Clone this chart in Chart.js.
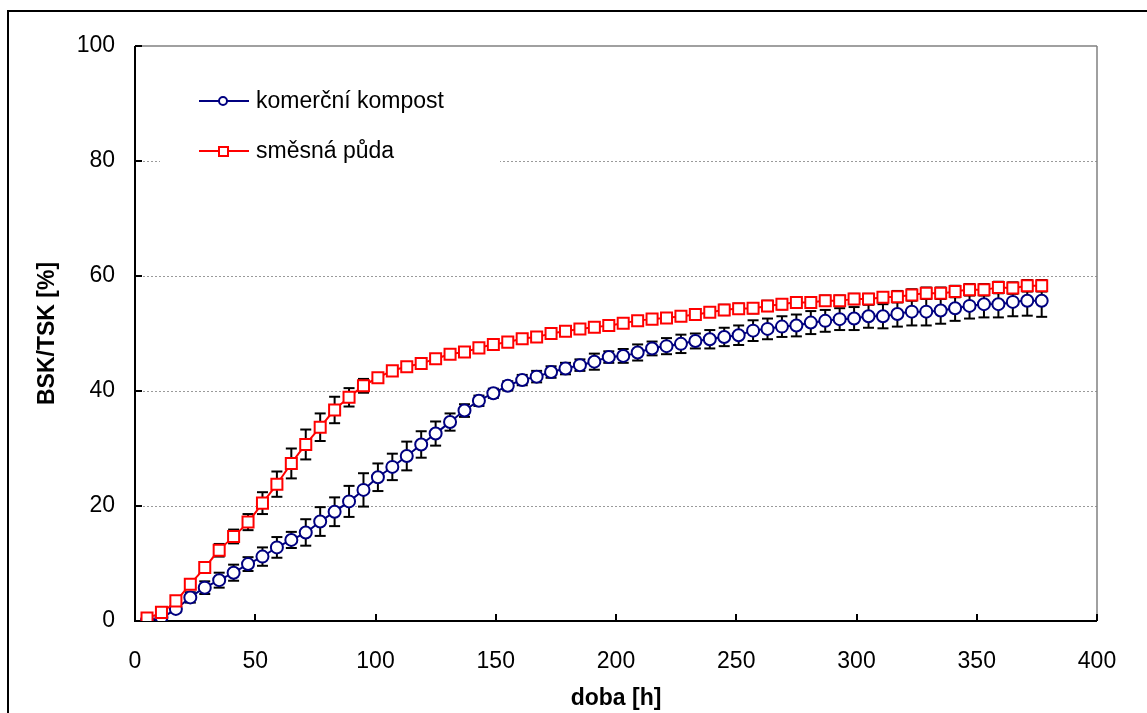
<!DOCTYPE html>
<html>
<head>
<meta charset="utf-8">
<script src="https://cdn.jsdelivr.net/npm/chart.js@4.4.1/dist/chart.umd.min.js"></script>
<style>
    html, body { margin: 0; padding: 0; background: #fff; }
    canvas { display: block; }
</style>
</head>
<body>
<canvas id="bskChart" width="1147" height="713"></canvas>
<script>
// doba [h]
const hours = [
    5, 11, 17, 23, 29, 35, 41, 47, 53, 59,
    65, 71, 77, 83, 89, 95, 101, 107, 113, 119,
    125, 131, 137, 143, 149, 155, 161, 167, 173, 179,
    185, 191, 197, 203, 209, 215, 221, 227, 233, 239,
    245, 251, 257, 263, 269, 275, 281, 287, 293, 299,
    305, 311, 317, 323, 329, 335, 341, 347, 353, 359,
    365, 371, 377
];

// komerční kompost - BSK/TSK [%]
const kompost = [
    0.1, 0.6, 2.1, 4.1, 5.8, 7.1, 8.4, 9.9, 11.2, 12.8,
    14.1, 15.4, 17.3, 19.0, 20.8, 22.8, 25.0, 26.8, 28.7, 30.7,
    32.6, 34.6, 36.6, 38.3, 39.6, 40.9, 41.9, 42.5, 43.3, 43.9,
    44.5, 45.1, 45.9, 46.1, 46.7, 47.4, 47.8, 48.2, 48.7, 49.0,
    49.4, 49.7, 50.5, 50.8, 51.2, 51.4, 51.9, 52.2, 52.5, 52.6,
    53.0, 53.0, 53.4, 53.8, 53.8, 54.0, 54.4, 54.8, 55.1, 55.1,
    55.5, 55.7, 55.7
];
const kompostErr = [
    0.3, 0.4, 0.6, 0.9, 1.1, 1.3, 1.4, 1.2, 1.6, 1.8,
    1.4, 2.3, 2.5, 2.5, 2.7, 2.9, 2.4, 2.3, 2.5, 2.3,
    2.1, 1.5, 1.1, 0.9, 0.8, 0.8, 0.9, 1.0, 1.0, 1.0,
    1.0, 1.4, 1.0, 1.2, 1.4, 1.2, 1.4, 1.6, 1.3, 1.6,
    1.6, 1.7, 1.8, 1.8, 1.8, 1.9, 2.0, 1.9, 1.9, 2.0,
    2.0, 2.1, 2.2, 2.4, 2.4, 2.3, 2.2, 2.2, 2.3, 2.3,
    2.5, 2.6, 2.8
];

// směsná půda - BSK/TSK [%]
const puda = [
    0.5, 1.5, 3.5, 6.4, 9.3, 12.3, 14.7, 17.2, 20.5, 23.8,
    27.4, 30.7, 33.7, 36.7, 38.9, 40.9, 42.3, 43.5, 44.2, 44.8,
    45.6, 46.4, 46.8, 47.5, 48.1, 48.5, 49.1, 49.4, 50.0, 50.4,
    50.8, 51.1, 51.4, 51.8, 52.2, 52.5, 52.7, 53.0, 53.3, 53.7,
    54.1, 54.3, 54.4, 54.8, 55.1, 55.4, 55.4, 55.7, 55.7, 56.0,
    56.0, 56.3, 56.4, 56.7, 57.0, 57.0, 57.3, 57.6, 57.6, 58.0,
    57.9, 58.3, 58.3
];
const pudaErr = [
    0.3, 0.4, 0.5, 0.7, 0.8, 1.1, 1.2, 1.4, 1.9, 2.2,
    2.6, 2.6, 2.4, 2.3, 1.6, 1.2, 0.8, 0.7, 0.7, 0.7,
    0.7, 0.7, 0.7, 0.7, 0.7, 0.8, 0.8, 0.8, 0.8, 0.8,
    0.8, 0.8, 0.8, 0.8, 0.8, 0.8, 0.8, 0.8, 0.8, 0.8,
    0.9, 0.9, 0.9, 0.9, 0.9, 0.9, 0.9, 0.9, 0.9, 0.9,
    0.9, 0.9, 1.0, 1.0, 1.0, 1.0, 1.0, 1.0, 1.0, 1.0,
    1.0, 1.0, 1.0
];

const seriesNames = ["komerční kompost", "směsná půda"];
const yGridValues = [20, 40, 60, 80];

const FONT = "'Liberation Sans', Arial, sans-serif";
const NAVY = "#000080";
const RED = "#ff0000";

function toPoints(xs, ys) {
    return xs.map((h, i) => ({ x: h, y: ys[i] }));
}

function strokeLine(ctx, x1, y1, x2, y2) {
    ctx.beginPath();
    ctx.moveTo(x1, y1);
    ctx.lineTo(x2, y2);
    ctx.stroke();
}

// gridlines, axes, inside tick marks, error bars, legend, outer frame
const chartDecor = {
    id: "chartDecor",
    beforeDatasetsDraw(chart) {
        const { ctx, chartArea: a, scales: { x, y } } = chart;
        ctx.save();

        // outer frame
        ctx.strokeStyle = "#000";
        ctx.lineWidth = 2;
        ctx.strokeRect(8, 11, 1300, 900);

        // dotted gridlines
        ctx.strokeStyle = "#9a9a9a";
        ctx.lineWidth = 1;
        ctx.setLineDash([2, 2]);
        yGridValues.forEach(v => {
            const py = Math.round(y.getPixelForValue(v)) + 0.5;
            strokeLine(ctx, a.left, py, a.right, py);
        });
        ctx.setLineDash([]);

        // top and right border of plot
        ctx.strokeStyle = "#808080";
        ctx.lineWidth = 1.5;
        strokeLine(ctx, a.left, a.top, a.right, a.top);
        strokeLine(ctx, a.right, a.top, a.right, a.bottom);

        // legend background
        ctx.fillStyle = "#fff";
        ctx.fillRect(160, 66, 340, 118);

        // axes
        ctx.strokeStyle = "#000";
        ctx.lineWidth = 2;
        strokeLine(ctx, a.left, a.top, a.left, a.bottom + 1);
        strokeLine(ctx, a.left - 1, a.bottom, a.right, a.bottom);

        // tick marks pointing inside
        x.ticks.forEach(t => {
            const px = Math.round(x.getPixelForValue(t.value));
            strokeLine(ctx, px, a.bottom, px, a.bottom - 7);
        });
        y.ticks.forEach(t => {
            const py = Math.round(y.getPixelForValue(t.value));
            strokeLine(ctx, a.left, py, a.left + 7, py);
        });

        // error bars
        const drawErr = (vals, errs) => {
            hours.forEach((h, i) => {
                const px = x.getPixelForValue(h);
                const top = y.getPixelForValue(vals[i] + errs[i]);
                const bot = y.getPixelForValue(Math.max(0, vals[i] - errs[i]));
                strokeLine(ctx, px, top, px, bot);
                strokeLine(ctx, px - 5.5, top, px + 5.5, top);
                strokeLine(ctx, px - 5.5, bot, px + 5.5, bot);
            });
        };
        ctx.lineWidth = 2;
        drawErr(kompost, kompostErr);
        drawErr(puda, pudaErr);

        ctx.restore();
    },
    afterDatasetsDraw(chart) {
        const { ctx } = chart;
        ctx.save();
        ctx.font = "23px " + FONT;
        ctx.textBaseline = "middle";
        ctx.fillStyle = "#000";

        // komerční kompost
        ctx.strokeStyle = NAVY;
        ctx.lineWidth = 2;
        strokeLine(ctx, 199, 101, 249, 101);
        ctx.beginPath();
        ctx.arc(223, 101, 4, 0, Math.PI * 2);
        ctx.fillStyle = "#fff";
        ctx.fill();
        ctx.stroke();
        ctx.fillStyle = "#000";
        ctx.fillText(seriesNames[0], 256, 102);

        // směsná půda
        ctx.strokeStyle = RED;
        strokeLine(ctx, 199, 151, 249, 151);
        ctx.fillStyle = "#fff";
        ctx.fillRect(219, 147, 9, 9);
        ctx.strokeRect(219, 147, 9, 9);
        ctx.fillStyle = "#000";
        ctx.fillText(seriesNames[1], 256, 152);

        ctx.restore();
    }
};

new Chart(document.getElementById("bskChart"), {
    type: "line",
    data: {
        datasets: [
            {
                label: seriesNames[1],
                data: toPoints(hours, puda),
                borderColor: RED,
                borderWidth: 2,
                pointStyle: "rect",
                pointRadius: 7.8,
                pointBorderWidth: 2,
                pointBackgroundColor: "#fff",
                pointBorderColor: RED,
                cubicInterpolationMode: "monotone"
            },
            {
                label: seriesNames[0],
                data: toPoints(hours, kompost),
                borderColor: NAVY,
                borderWidth: 2,
                pointStyle: "circle",
                pointRadius: 6,
                pointBorderWidth: 2,
                pointBackgroundColor: "#fff",
                pointBorderColor: NAVY,
                cubicInterpolationMode: "monotone"
            }
        ]
    },
    options: {
        responsive: false,
        animation: false,
        devicePixelRatio: 1,
        layout: { padding: { left: 0, top: 46, right: 50, bottom: 0 } },
        plugins: {
            legend: { display: false },
            tooltip: { enabled: false }
        },
        scales: {
            x: {
                type: "linear",
                min: 0,
                max: 400,
                grid: { display: false, drawTicks: false },
                border: { display: false },
                ticks: {
                    stepSize: 50,
                    padding: 27,
                    color: "#000",
                    font: { family: FONT, size: 23 }
                },
                title: {
                    display: true,
                    text: "doba [h]",
                    color: "#000",
                    padding: { top: 0, bottom: 1 },
                    font: { family: FONT, size: 23, weight: "bold" }
                },
                afterFit(scale) { scale.height = 92; }
            },
            y: {
                min: 0,
                max: 100,
                grid: { display: false, drawTicks: false },
                border: { display: false },
                ticks: {
                    stepSize: 20,
                    padding: 20,
                    color: "#000",
                    font: { family: FONT, size: 23 }
                },
                title: {
                    display: true,
                    text: "BSK/TSK [%]",
                    color: "#000",
                    padding: { top: 34, bottom: 0 },
                    font: { family: FONT, size: 23, weight: "bold" }
                },
                afterFit(scale) { scale.width = 135; }
            }
        }
    },
    plugins: [chartDecor]
});
</script>
</body>
</html>
